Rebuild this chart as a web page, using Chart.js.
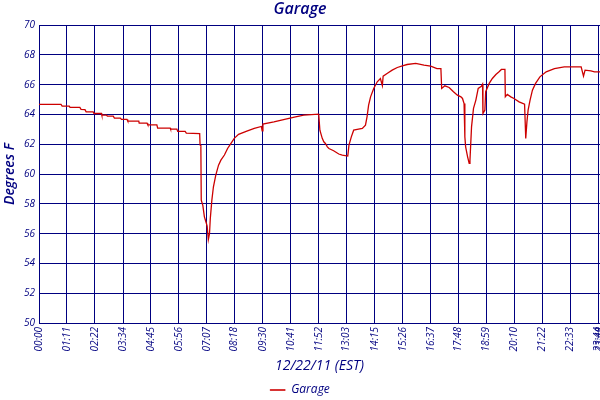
<!DOCTYPE html>
<html>
<head>
<meta charset="utf-8">
<title>Garage</title>
<script src="https://cdn.jsdelivr.net/npm/chart.js@4"></script>
<style>
    body { margin: 0; background: #fff; }
    #garageChart { display: block; }
</style>
</head>
<body>
<canvas id="garageChart" width="600" height="400"></canvas>
<script>
// Garage temperature - 12/22/11
// times are minutes after midnight (EST), temps in degrees F

const tickLabels = ['00:00', '01:11', '02:22', '03:34', '04:45', '05:56', '07:07', '08:18', '09:30', '10:41',
    '11:52', '13:03', '14:15', '15:26', '16:37', '17:48', '18:59', '20:10', '21:22', '22:33', '23:44', '23:48'];

const yTicks = [50, 52, 54, 56, 58, 60, 62, 64, 66, 68, 70];

const times = [
    0, 56, 59, 77, 79, 104, 107, 117, 120, 138, 140, 159, 160, 172, 174, 189, 192, 207, 210, 224,
    226, 254, 255, 275, 277, 300, 302, 334, 335, 351, 353, 372, 375, 409, 410, 412, 413, 417, 421, 426,
    428, 431, 434, 436, 440, 444, 450, 457, 463, 472, 480, 487, 497, 508, 529, 548, 566, 568, 570, 598,
    628, 653, 674, 712, 715, 721, 725, 729, 734, 738, 750, 763, 772, 786, 789, 795, 801, 810, 823, 831,
    835, 839, 844, 852, 861, 869, 874, 876, 886, 899, 912, 925, 937, 959, 980, 997, 1013, 1023, 1025, 1033,
    1044, 1055, 1065, 1074, 1078, 1082, 1084, 1086, 1091, 1095, 1097, 1101, 1106, 1112, 1118, 1126, 1129, 1130, 1135, 1137,
    1146, 1154, 1163, 1171, 1177, 1186, 1187, 1192, 1201, 1209, 1222, 1236, 1239, 1242, 1245, 1250, 1256, 1264, 1275, 1291,
    1312, 1337, 1380, 1386, 1390, 1405, 1414, 1428
];

const garageTemps = [
    64.68, 64.68, 64.56, 64.56, 64.48, 64.48, 64.35, 64.33, 64.18, 64.18, 64.07, 64.07, 63.96, 63.96, 63.89, 63.89, 63.76, 63.76, 63.67, 63.67,
    63.56, 63.56, 63.42, 63.42, 63.31, 63.31, 63.09, 63.09, 63.02, 63.02, 62.87, 62.87, 62.75, 62.72, 61.95, 61.9, 58.25, 57.9, 57.13, 56.7,
    56.5, 55.6, 56.0, 57.0, 58.25, 59.15, 59.93, 60.6, 60.94, 61.28, 61.72, 62.0, 62.4, 62.67, 62.89, 63.07, 63.2, 62.9, 63.36, 63.51,
    63.69, 63.85, 63.96, 64.03, 62.95, 62.4, 62.17, 62.06, 61.83, 61.72, 61.57, 61.35, 61.28, 61.21, 61.95, 62.5, 62.95, 63.0, 63.07, 63.29,
    63.85, 64.63, 65.19, 65.75, 66.2, 66.42, 65.95, 66.58, 66.76, 66.98, 67.16, 67.27, 67.36, 67.43, 67.32, 67.25, 67.09, 67.09, 65.75, 65.93,
    65.82, 65.53, 65.3, 65.19, 65.08, 64.74, 62.5, 61.83, 61.16, 60.72, 60.94, 63.17, 64.41, 64.97, 65.75, 65.9, 66.04, 64.07, 64.3, 65.53,
    66.09, 66.42, 66.69, 66.87, 67.03, 67.03, 65.19, 65.35, 65.19, 65.08, 64.85, 64.7, 62.4, 63.51, 64.3, 64.97, 65.64, 66.09, 66.53, 66.87,
    67.09, 67.2, 67.2, 66.58, 66.98, 66.93, 66.87, 66.87
];

const navy = '#000080';
const red = '#cc0000';

// "HH:MM" -> minutes
function toMinutes(label) {
    const parts = label.split(':');
    return parseInt(parts[0], 10) * 60 + parseInt(parts[1], 10);
}

const tickMinutes = tickLabels.map(toMinutes);

document.addEventListener('DOMContentLoaded', function() {
    const ctx = document.getElementById('garageChart');

    new Chart(ctx, {
        type: 'line',
        data: {
            datasets: [{
                label: 'Garage',
                data: times.map((t, i) => ({ x: t, y: garageTemps[i] })),
                borderColor: red,
                backgroundColor: red,
                borderWidth: 1.3,
                pointRadius: 0,
                tension: 0,
                fill: false
            }]
        },
        options: {
            responsive: false,
            animation: false,
            devicePixelRatio: 1,
            layout: {
                padding: { top: 0, left: 0, right: 0, bottom: -6 }
            },
            plugins: {
                title: {
                    display: true,
                    text: 'Garage',
                    color: navy,
                    font: { family: 'Open Sans', size: 16, weight: '600', style: 'italic' },
                    padding: { top: 0, bottom: 6 }
                },
                legend: {
                    display: true,
                    position: 'bottom',
                    labels: {
                        color: navy,
                        boxWidth: 15,
                        boxHeight: 1,
                        padding: 0,
                        font: { family: 'Open Sans', size: 12, style: 'italic' },
                        generateLabels: function(chart) {
                            // thin red line sample like the original legend
                            return Chart.defaults.plugins.legend.labels.generateLabels(chart).map(item => {
                                item.lineWidth = 0.6;
                                return item;
                            });
                        }
                    }
                },
                tooltip: { enabled: false }
            },
            scales: {
                x: {
                    type: 'linear',
                    min: 0,
                    max: tickMinutes[tickMinutes.length - 1],
                    afterBuildTicks: function(scale) {
                        scale.ticks = tickMinutes.map(v => ({ value: v }));
                    },
                    afterFit: function(scale) {
                        scale.height = 61;
                        scale.paddingLeft = 0;
                        scale.paddingRight = 0;
                    },
                    ticks: {
                        autoSkip: false,
                        minRotation: 90,
                        maxRotation: 90,
                        padding: 4,
                        color: navy,
                        font: { family: 'Open Sans', size: 10, style: 'italic' },
                        callback: function(value) {
                            const i = tickMinutes.indexOf(value);
                            return i >= 0 ? tickLabels[i] : '';
                        }
                    },
                    grid: { color: navy, lineWidth: 1, drawTicks: false },
                    border: { color: navy },
                    title: {
                        display: true,
                        text: '12/22/11 (EST)',
                        color: navy,
                        font: { family: 'Open Sans', size: 14, style: 'italic' },
                        padding: { top: 0, bottom: 10 }
                    }
                },
                y: {
                    min: 50,
                    max: 70,
                    afterBuildTicks: function(scale) {
                        scale.ticks = yTicks.map(v => ({ value: v }));
                    },
                    afterFit: function(scale) {
                        scale.width = 39;
                    },
                    ticks: {
                        padding: 4,
                        color: navy,
                        font: { family: 'Open Sans', size: 10, style: 'italic' }
                    },
                    grid: { color: navy, lineWidth: 1, drawTicks: false },
                    border: { color: navy },
                    title: {
                        display: true,
                        text: 'Degrees F',
                        color: navy,
                        font: { family: 'Open Sans', size: 14, weight: '600', style: 'italic' },
                        padding: { top: 2, bottom: 0 }
                    }
                }
            }
        }
    });
});
</script>
</body>
</html>
